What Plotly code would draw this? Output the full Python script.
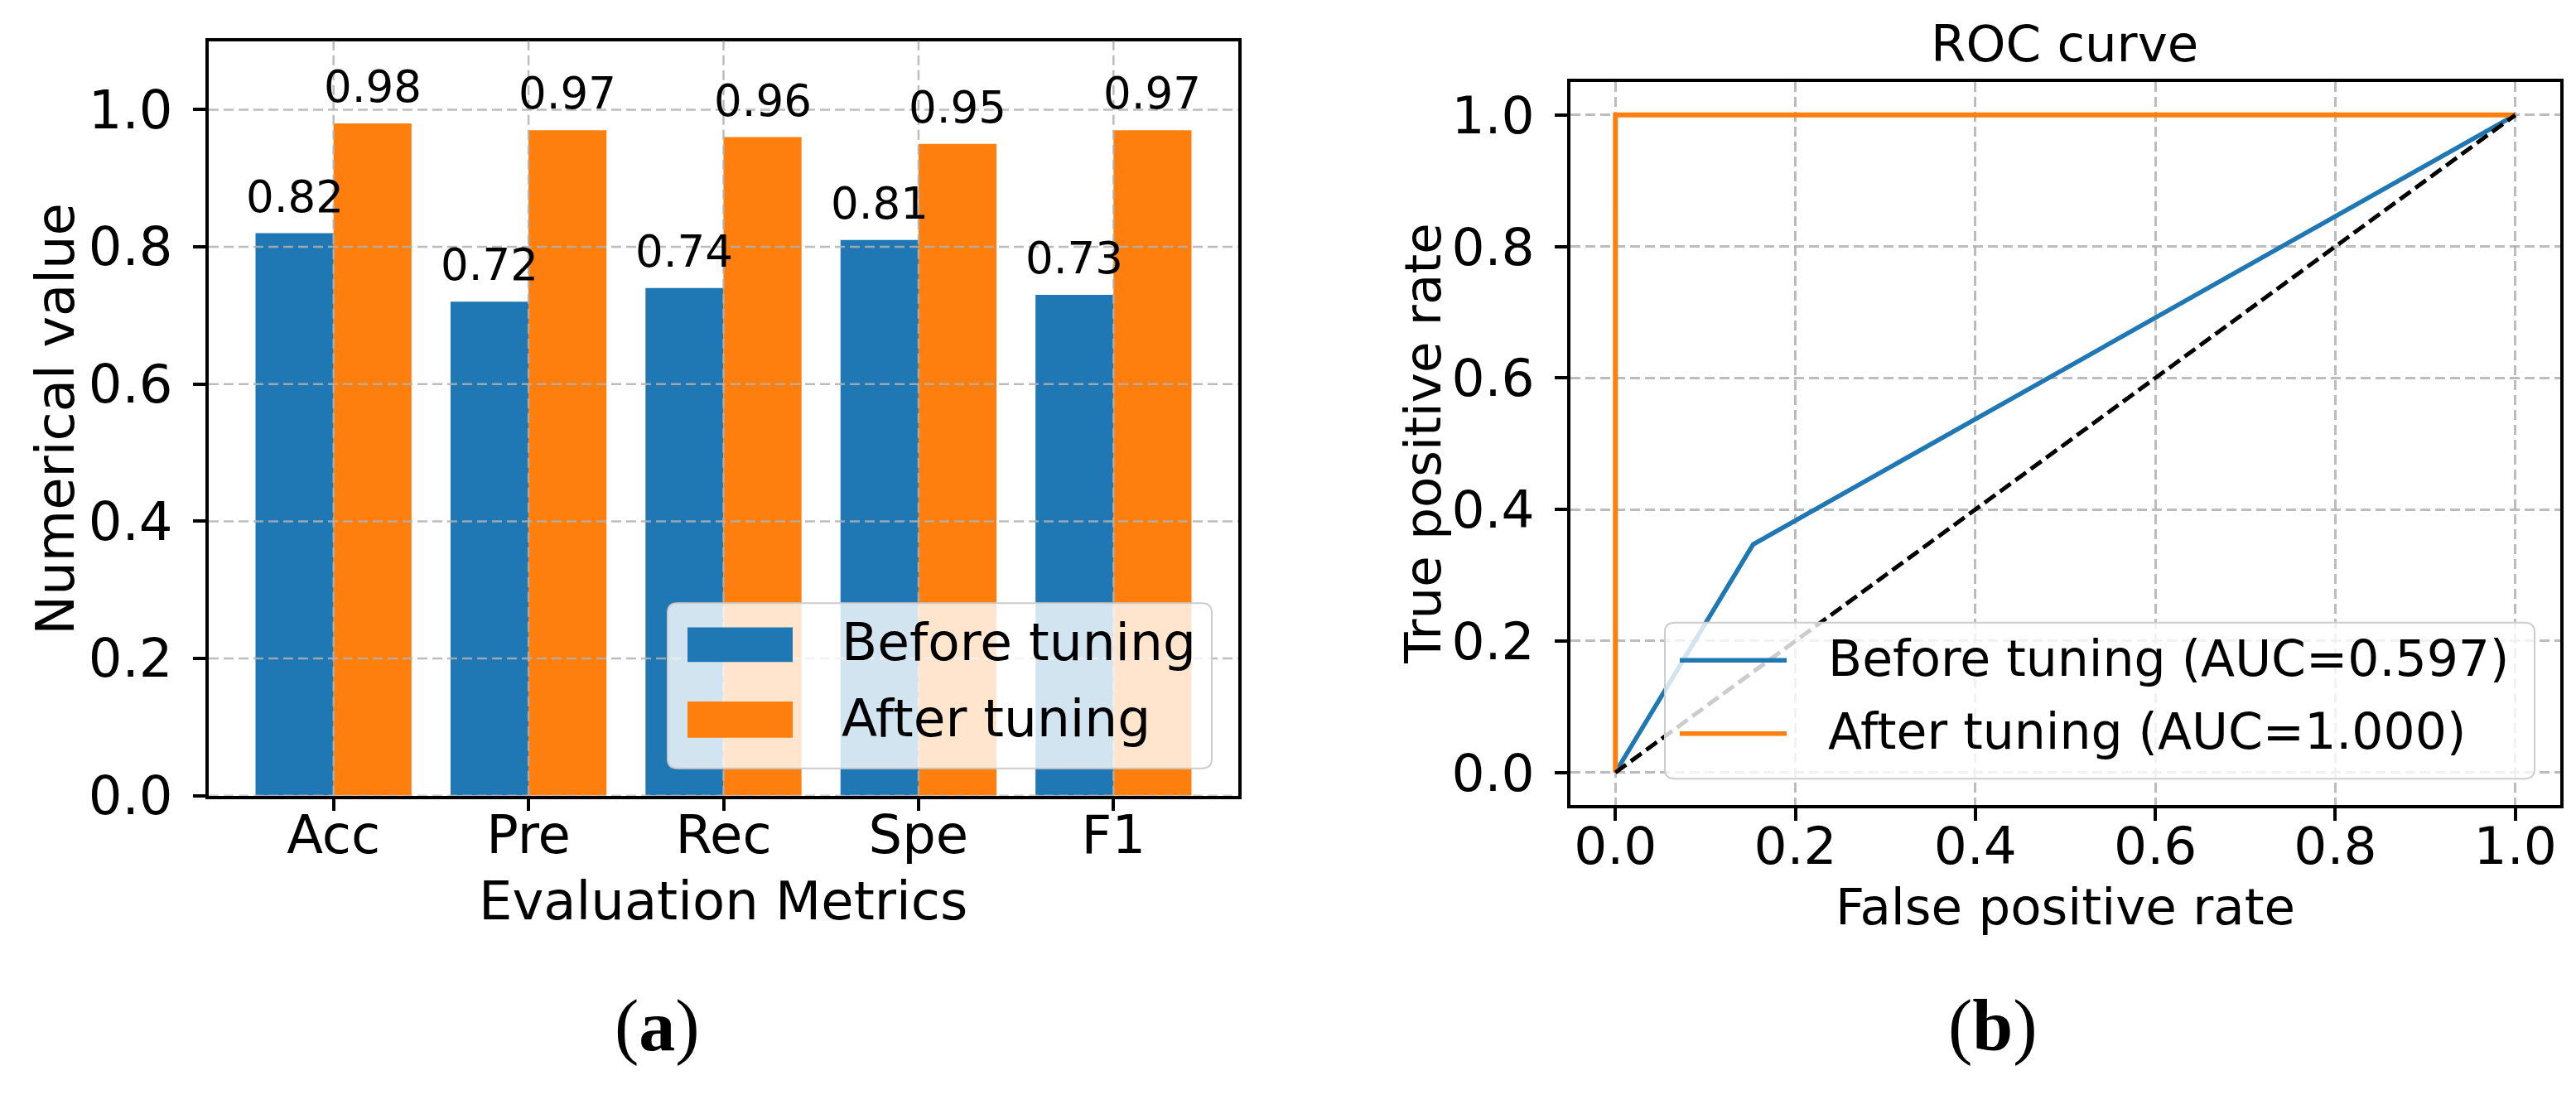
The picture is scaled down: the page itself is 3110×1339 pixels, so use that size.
import plotly.graph_objects as go
import numpy as np

# bar chart data
metrics = ["Acc", "Pre", "Rec", "Spe", "F1"]
before_vals = [0.82, 0.72, 0.74, 0.81, 0.73]
after_vals = [0.98, 0.97, 0.96, 0.95, 0.97]

# roc curve data
fpr_before = [0.0, 0.153, 1.0]
tpr_before = [0.0, 0.347, 1.0]
fpr_after = [0.0, 0.0, 1.0]
tpr_after = [0.0, 1.0, 1.0]
chance_x = [0.0, 1.0]
chance_y = [0.0, 1.0]
auc_before = 0.597
auc_after = 1.000

W, H = 3110, 1339
BLUE = "#1f77b4"
ORANGE = "#ff7f0e"
GRID = "rgba(176,176,176,0.85)"
FONT = "DejaVu Sans"


def fx(p):
  return p / W


def fy(p):
  return 1 - p / H


def rrect(x0, y0, x1, y1, r):
  pts = [
    ("M", x0 + r, y0), ("L", x1 - r, y0), ("Q", x1, y0, x1, y0 + r),
    ("L", x1, y1 - r), ("Q", x1, y1, x1 - r, y1), ("L", x0 + r, y1),
    ("Q", x0, y1, x0, y1 - r), ("L", x0, y0 + r), ("Q", x0, y0, x0 + r, y0),
  ]
  out = ""
  for p in pts:
    coords = p[1:]
    s = " ".join("{:.5f},{:.5f}".format(fx(coords[i]), fy(coords[i + 1]))
                 for i in range(0, len(coords), 2))
    out += p[0] + s + " "
  return out + "Z"


fig = go.Figure()

xpos = np.arange(len(metrics))
fig.add_trace(go.Bar(x=xpos - 0.2, y=before_vals, width=0.4, marker_color=BLUE,
                     marker_line_width=0, name="Before tuning",
                     xaxis="x", yaxis="y", showlegend=False))
fig.add_trace(go.Bar(x=xpos + 0.2, y=after_vals, width=0.4, marker_color=ORANGE,
                     marker_line_width=0, name="After tuning",
                     xaxis="x", yaxis="y", showlegend=False))

fig.add_trace(go.Scatter(x=fpr_before, y=tpr_before, mode="lines",
                         line=dict(color=BLUE, width=5.5),
                         name="Before tuning (AUC={:.3f})".format(auc_before),
                         xaxis="x2", yaxis="y2", showlegend=False))
fig.add_trace(go.Scatter(x=fpr_after, y=tpr_after, mode="lines",
                         line=dict(color=ORANGE, width=6),
                         name="After tuning (AUC={:.3f})".format(auc_after),
                         xaxis="x2", yaxis="y2", showlegend=False))
fig.add_trace(go.Scatter(x=chance_x, y=chance_y, mode="lines",
                         line=dict(color="black", width=5, dash="16px,7px"),
                         xaxis="x2", yaxis="y2", showlegend=False))

axis_common = dict(showline=True, linewidth=3.5, linecolor="black", mirror=True,
                   ticks="outside", ticklen=15, tickwidth=3.5, tickcolor="black",
                   zeroline=False, layer="above traces")

fig.update_layout(
  width=W, height=H,
  margin=dict(l=0, r=0, t=0, b=0),
  paper_bgcolor="white", plot_bgcolor="white",
  font=dict(family=FONT, color="black"),
  xaxis=dict(domain=[fx(252), fx(1495)], range=[-0.64, 4.64],
             tickvals=list(xpos), ticktext=metrics, showgrid=False,
             tickfont=dict(size=64), ticklabelstandoff=-26, anchor="y", **axis_common),
  yaxis=dict(domain=[fy(988), fy(51)], range=[0, 1.1], tick0=0, dtick=0.2,
             tickformat=".1f", showgrid=False, tickfont=dict(size=64),
             ticklabelstandoff=12, anchor="x", **axis_common),
  xaxis2=dict(domain=[fx(1896), fx(3091)], range=[-0.05, 1.05], tick0=0, dtick=0.2,
              tickformat=".1f", showgrid=True, gridcolor=GRID, gridwidth=2.5,
              griddash="12px,6px", tickfont=dict(size=63), ticklabelstandoff=-24,
              anchor="y2", **axis_common),
  yaxis2=dict(domain=[fy(1000), fy(102)], range=[-0.05, 1.05], tick0=0, dtick=0.2,
              tickformat=".1f", showgrid=True, gridcolor=GRID, gridwidth=2.5,
              griddash="12px,6px", tickfont=dict(size=63), ticklabelstandoff=12,
              anchor="x2", **axis_common),
)

shapes = []
# bar chart grid sits above the bars
for v in [0.0, 0.2, 0.4, 0.6, 0.8, 1.0]:
  shapes.append(dict(type="line", xref="x domain", yref="y", x0=0, x1=1, y0=v, y1=v,
                     line=dict(color=GRID, width=2.5, dash="12px,6px"), layer="above"))
for i in xpos:
  shapes.append(dict(type="line", xref="x", yref="y domain", x0=i, x1=i, y0=0, y1=1,
                     line=dict(color=GRID, width=2.5, dash="12px,6px"), layer="above"))

# legend boxes drawn by hand (matplotlib style)
shapes.append(dict(type="path", xref="paper", yref="paper", path=rrect(806, 749, 1463, 954, 12),
                   fillcolor="rgba(255,255,255,0.8)", line=dict(color="#cccccc", width=2),
                   layer="above"))
shapes.append(dict(type="rect", xref="paper", yref="paper", x0=fx(830), x1=fx(957),
                   y0=fy(822), y1=fy(779), fillcolor=BLUE, line_width=0, layer="above"))
shapes.append(dict(type="rect", xref="paper", yref="paper", x0=fx(830), x1=fx(957),
                   y0=fy(916), y1=fy(871), fillcolor=ORANGE, line_width=0, layer="above"))

shapes.append(dict(type="path", xref="paper", yref="paper", path=rrect(2010, 773, 3060, 967, 12),
                   fillcolor="rgba(255,255,255,0.8)", line=dict(color="#cccccc", width=2),
                   layer="above"))
shapes.append(dict(type="line", xref="paper", yref="paper", x0=fx(2028), x1=fx(2157),
                   y0=fy(820), y1=fy(820), line=dict(color=BLUE, width=5.5), layer="above"))
shapes.append(dict(type="line", xref="paper", yref="paper", x0=fx(2028), x1=fx(2157),
                   y0=fy(911), y1=fy(911), line=dict(color=ORANGE, width=5.5), layer="above"))
fig.update_layout(shapes=shapes)

ann = []
# value labels over bars
for i in xpos:
  ann.append(dict(x=i - 0.2, y=before_vals[i], xref="x", yref="y", text="{:.2f}".format(before_vals[i]),
                  showarrow=False, yanchor="bottom", yshift=12, font=dict(size=53)))
  ann.append(dict(x=i + 0.2, y=after_vals[i], xref="x", yref="y", text="{:.2f}".format(after_vals[i]),
                  showarrow=False, yanchor="bottom", yshift=12, font=dict(size=53)))


def paper_text(px, py, text, size, angle=0, xanchor="center", family=FONT):
  return dict(x=fx(px), y=fy(py), xref="paper", yref="paper", text=text, showarrow=False,
              xanchor=xanchor, yanchor="middle", textangle=angle,
              font=dict(size=size, family=family, color="black"))


ann.append(paper_text(873, 1119, "Evaluation Metrics", 64))
ann.append(paper_text(67, 520, "Numerical value", 64, angle=-90))
ann.append(paper_text(1014, 798, "Before tuning", 63, xanchor="left"))
ann.append(paper_text(1014, 892, "After tuning", 63, xanchor="left"))

ann.append(paper_text(2492, 54, "ROC curve", 61))
ann.append(paper_text(2493, 1126, "False positive rate", 61))
ann.append(paper_text(1718, 551, "True positive rate", 61, angle=-90))
ann.append(paper_text(2205, 818, "Before tuning (AUC={:.3f})".format(auc_before), 60, xanchor="left"))
ann.append(paper_text(2205, 908, "After tuning (AUC={:.3f})".format(auc_after), 60, xanchor="left"))

ann.append(paper_text(793, 1274, "(<b>a</b>)", 88, family="Liberation Serif"))
ann.append(paper_text(2406, 1274, "(<b>b</b>)", 88, family="Liberation Serif"))
fig.update_layout(annotations=ann)

fig.write_html("out.html", config={"displayModeBar": False},
               post_script="document.body.style.margin='0';")
